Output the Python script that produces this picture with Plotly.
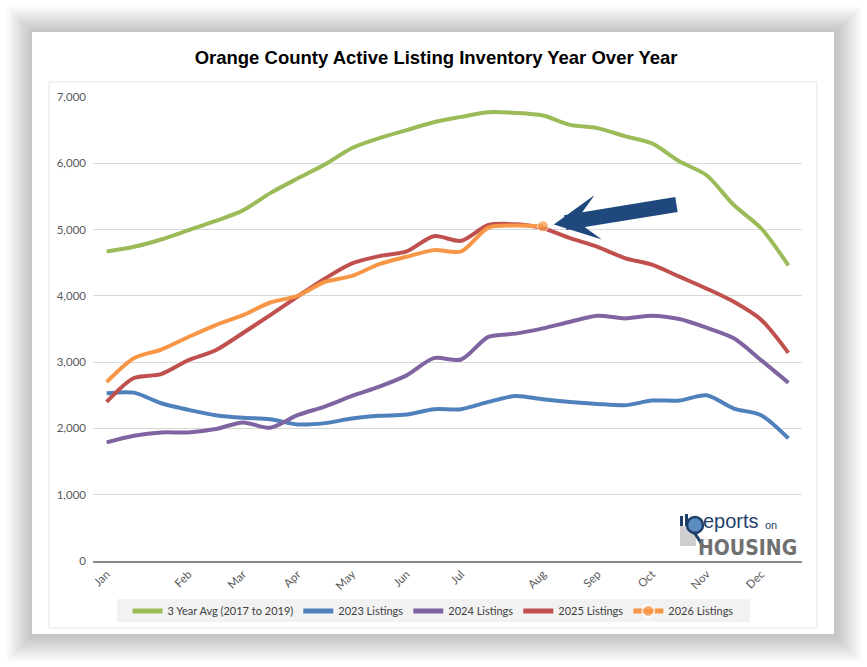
import plotly.graph_objects as go

# ---- data ----
month_labels = ["Jan", "Feb", "Mar", "Apr", "May", "Jun", "Jul", "Aug", "Sep", "Oct", "Nov", "Dec"]
month_pos = [0, 3, 5, 7, 9, 11, 13, 16, 18, 20, 22, 24]

avg_3yr = [4670, 4740, 4850, 4990, 5130, 5290, 5550, 5770, 5980, 6230, 6380, 6500, 6620,
           6700, 6770, 6760, 6720, 6580, 6530, 6410, 6300, 6030, 5820, 5370, 5020, 4460]
listings_2023 = [2530, 2540, 2380, 2280, 2200, 2160, 2140, 2060, 2080, 2150, 2190, 2210, 2290,
                 2290, 2400, 2490, 2440, 2400, 2370, 2350, 2420, 2420, 2500, 2300, 2200, 1850]
listings_2024 = [1790, 1890, 1940, 1940, 1990, 2090, 2010, 2200, 2330, 2490, 2630, 2800, 3060,
                 3040, 3380, 3430, 3510, 3610, 3700, 3660, 3700, 3650, 3520, 3360, 3030, 2690]
listings_2025 = [2400, 2760, 2820, 3030, 3180, 3440, 3710, 3990, 4260, 4490, 4600, 4670, 4900,
                 4830, 5070, 5080, 5020, 4870, 4740, 4570, 4470, 4290, 4110, 3910, 3640, 3140]
listings_2026 = [2700, 3060, 3190, 3380, 3560, 3710, 3900, 4000, 4210, 4300, 4480, 4590, 4690,
                 4670, 5030, 5060, 5050]

series = [
    ("3 Year Avg (2017 to 2019)", avg_3yr, "#9BBB59"),
    ("2023 Listings", listings_2023, "#4F81BD"),
    ("2024 Listings", listings_2024, "#8064A2"),
    ("2025 Listings", listings_2025, "#C0504D"),
]

# ---- layout geometry (pixels in the 867x667 page) ----
W_PX, H_PX = 867, 667
L, R, T, B = 93, 802, 97, 561


def px(x):
    return (x - L) / (R - L)


def py(y):
    return (B - y) / (B - T)


fig = go.Figure()

for name, vals, col in series:
    fig.add_trace(go.Scatter(
        x=list(range(len(vals))), y=vals, name=name, mode="lines",
        line=dict(color=col, width=4, shape="spline", smoothing=0.8),
    ))

last = len(listings_2026) - 1
fig.add_trace(go.Scatter(
    x=list(range(len(listings_2026))), y=listings_2026, name="2026 Listings",
    mode="lines+markers",
    line=dict(color="#F79646", width=4, shape="spline", smoothing=0.8),
    marker=dict(color="#F79646", size=[11 if i == last else 0 for i in range(last + 1)]),
))

shapes = []
# card drop shadow
for k in range(10):
    g = (10 - k) * 2.6
    shapes.append(dict(type="rect", xref="paper", yref="paper", layer="below",
                       x0=px(32 - g + 1), x1=px(834 + g + 1), y0=py(634 + g + 1), y1=py(32 - g + 1),
                       fillcolor="rgba(0,0,0,0.024)", line=dict(width=0)))
# card
shapes.append(dict(type="rect", xref="paper", yref="paper", layer="below",
                   x0=px(32), x1=px(834), y0=py(634), y1=py(32),
                   fillcolor="white", line=dict(width=0)))
# inner chart frame
shapes.append(dict(type="rect", xref="paper", yref="paper", layer="below",
                   x0=px(49), x1=px(817), y0=py(628), y1=py(82),
                   fillcolor="white", line=dict(color="#e4e4e4", width=1)))
# legend background
shapes.append(dict(type="rect", xref="paper", yref="paper", layer="below",
                   x0=px(117), x1=px(750), y0=py(622), y1=py(599),
                   fillcolor="#f2f2f2", line=dict(width=0)))
# logo icon
shapes.append(dict(type="rect", xref="paper", yref="paper", layer="above",
                   x0=px(680), x1=px(696), y0=py(546), y1=py(526),
                   fillcolor="#cfcfcf", line=dict(width=0)))
shapes.append(dict(type="rect", xref="paper", yref="paper", layer="above",
                   x0=px(680), x1=px(683), y0=py(526), y1=py(516),
                   fillcolor="#1F3F6B", line=dict(width=0)))
shapes.append(dict(type="rect", xref="paper", yref="paper", layer="above",
                   x0=px(685), x1=px(688), y0=py(526), y1=py(514),
                   fillcolor="#1F3F6B", line=dict(width=0)))
shapes.append(dict(type="circle", xref="paper", yref="paper", layer="above",
                   x0=px(687), x1=px(703), y0=py(533), y1=py(517),
                   fillcolor="#5b8cc2", line=dict(color="#1F3F6B", width=2.5)))
shapes.append(dict(type="line", xref="paper", yref="paper", layer="above",
                   x0=px(694), x1=px(703), y0=py(532), y1=py(546),
                   line=dict(color="#1F3F6B", width=3)))

annotations = [
    # arrow pointing at the latest 2026 value
    dict(x=last, y=listings_2026[last], xref="x", yref="y", text="", showarrow=True,
         ax=135, ay=-22, arrowhead=3, arrowwidth=15, arrowsize=0.5,
         arrowcolor="#1F497D", standoff=11),
    # logo text
    dict(x=px(702), y=py(521), xref="paper", yref="paper", text="eports", showarrow=False,
         xanchor="left", yanchor="middle", borderpad=0,
         font=dict(family="Liberation Sans, Arial", size=20, color="#1F3F6B")),
    dict(x=px(764), y=py(525), xref="paper", yref="paper", text="on", showarrow=False,
         xanchor="left", yanchor="middle", borderpad=0,
         font=dict(family="Liberation Sans, Arial", size=11, color="#1F3F6B")),
    dict(x=px(697), y=py(548), xref="paper", yref="paper", text="<b>HOUSING</b>", showarrow=False,
         xanchor="left", yanchor="middle", borderpad=0,
         font=dict(family="Liberation Sans Narrow, DejaVu Sans Condensed, Liberation Sans", size=21,
                   color="#707070")),
]

fig.update_layout(
    width=W_PX, height=H_PX,
    margin=dict(l=L, r=W_PX - R, t=T, b=H_PX - B),
    paper_bgcolor="white", plot_bgcolor="rgba(0,0,0,0)",
    title=dict(text="<b>Orange County Active Listing Inventory Year Over Year</b>",
               x=0.503, xanchor="center", y=1 - 58 / H_PX, yanchor="middle", yref="container",
               font=dict(family="Liberation Sans, Arial", size=18.5, color="#000000")),
    font=dict(family="Lato, Open Sans, sans-serif", color="#595959", size=11),
    showlegend=True,
    legend=dict(orientation="h", x=px(433), xanchor="center", y=py(611), yanchor="middle",
                bgcolor="rgba(0,0,0,0)", itemsizing="constant",
                font=dict(size=11, color="#404040"), itemwidth=30),
    shapes=shapes,
    annotations=annotations,
)

fig.update_xaxes(
    range=[-0.5, 25.5], tickmode="array", tickvals=month_pos, ticktext=month_labels,
    tickangle=-45, showgrid=False, zeroline=False, showline=True,
    linecolor="#898989", linewidth=2, ticks="", tickfont=dict(size=11.5, color="#595959"),
)
fig.update_yaxes(
    range=[0, 7000], dtick=1000, tickformat=",d", showgrid=True, gridcolor="#d9d9d9",
    gridwidth=1, zeroline=False, showline=False, ticks="", ticklabelstandoff=6,
    tickfont=dict(size=11.5, color="#595959"),
)

# page body has a default margin; drop it so the figure sits at the window's corner
fig.write_html("out.html", config={"displayModeBar": False},
               post_script="document.body.style.margin='0px';")
